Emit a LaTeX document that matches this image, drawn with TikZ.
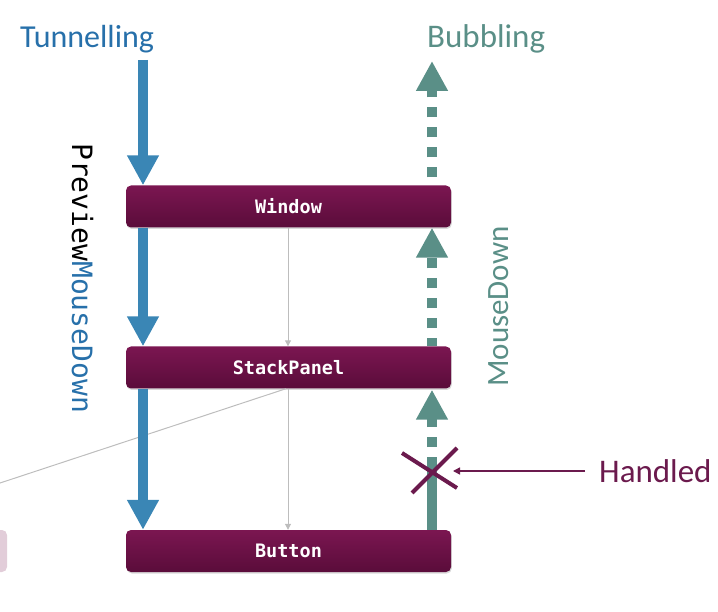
\documentclass[tikz,border=0pt]{standalone}
\usepackage{fontspec}
\setmainfont{Carlito}
\newfontfamily\monofont{DejaVu Sans Mono}
\usetikzlibrary{arrows.meta,shadows}
\definecolor{tblue}{HTML}{3A86B5}
\definecolor{tbluetext}{HTML}{2770AA}
\definecolor{tteal}{HTML}{5A8F87}
\definecolor{tpurple}{HTML}{6B1A4D}
\definecolor{boxtop}{HTML}{7B1651}
\definecolor{boxbot}{HTML}{5A0C3A}
\definecolor{tgray}{HTML}{BDBDBD}
\definecolor{tpink}{HTML}{E2CDD9}
\begin{document}
\begin{tikzpicture}[x=1pt,y=-1pt,
  elembox/.style={rounded corners=5pt, minimum width=325pt, minimum height=42pt,
    top color=boxtop, bottom color=boxbot, draw=none, text=white, inner sep=0pt,
    font=\monofont\bfseries\fontsize{18.5}{20}\selectfont,
    drop shadow={shadow xshift=0.8pt, shadow yshift=-1.5pt, opacity=0.3}},
  ghostbox/.style={rounded corners=5pt, minimum width=40pt, minimum height=42pt, fill=tpink, draw=none},
  bigtext/.style={font=\fontsize{32}{38}\selectfont, inner sep=0pt, anchor=base west},
  tunnelarrow/.style={draw=tblue, line width=10pt, -{Triangle[width=30pt,length=30pt]}},
  bubblearrow/.style={draw=tteal, line width=10pt, dash pattern=on 10pt off 10pt, -{Triangle[width=30pt,length=30pt]}},
  bubblesolid/.style={draw=tteal, line width=10pt},
  treearrow/.style={draw=tgray, line width=1pt, -{Triangle[width=6pt,length=6pt]}},
  treeline/.style={draw=tgray, line width=1pt},
  crossline/.style={draw=tpurple, line width=4pt},
  handledarrow/.style={draw=tpurple, line width=1.5pt, -{Triangle[width=7pt,length=7pt]}}
]
\useasboundingbox (0,0) rectangle (718,612);
\clip (0,0) rectangle (718,612);

% element boxes
\node[elembox] (win) at (288.5,206.5) {Window};
\node[elembox] (sp) at (288.5,367.5) {StackPanel};
\node[elembox] (btn) at (288.5,551) {Button};
\node[ghostbox] (ghost) at (-13,551) {};

% titles
\node[bigtext, text=tbluetext] (tun) at (20,48) {Tunnelling};
\node[bigtext, text=tteal, font=\fontsize{33}{38}\selectfont] (bub) at (427,48) {Bubbling};
\node[bigtext, text=tpurple, font=\fontsize{33}{38}\selectfont] (hnd) at (599,482) {Handled};

% rotated labels
\node[rotate=-90, anchor=base west, inner sep=0pt, font=\monofont\fontsize{28}{32}\selectfont] (pmd) at (72,143)
  {Preview\textcolor{tbluetext}{MouseDown}};
\node[rotate=90, anchor=base west, inner sep=0pt, text=tteal, font=\fontsize{31}{36}\selectfont] (md) at (508,387) {MouseDown};

% column coordinates
\coordinate (bx) at (143,0);
\coordinate (tx) at (432,0);
\coordinate (gx) at (288,0);
\coordinate (tunstart) at (143,60);
\coordinate (bubend) at (432,61);
\coordinate (cut) at (432,457);
\coordinate (hx) at (431,471);
\coordinate (leftend) at (-20,489.6);

% tree (gray) connectors
\draw[treearrow] (gx |- win.south) -- (gx |- sp.north);
\draw[treearrow] (gx |- sp.south) -- (gx |- btn.north);
\draw[treeline] ([xshift=-2pt]gx |- sp.south) -- (leftend);

% tunnelling arrows
\draw[tunnelarrow] (tunstart) -- (bx |- win.north);
\draw[tunnelarrow] (bx |- win.south) -- (bx |- sp.north);
\draw[tunnelarrow] (bx |- sp.south) -- (bx |- btn.north);

% bubbling arrows
\draw[bubblesolid] (tx |- btn.north) -- (cut);
\draw[bubblearrow, dash phase=10pt] (cut) -- ([yshift=-1pt]tx |- sp.south);
\draw[bubblearrow, dash phase=2pt] (tx |- sp.north) -- (tx |- win.south);
\draw[bubblearrow, dash phase=12pt] (tx |- win.north) -- (bubend);

% handled cross
\draw[crossline] ([shift={(-29pt,18pt)}]hx) -- ([shift={(26pt,-17pt)}]hx);
\draw[crossline] ([shift={(-19pt,-22pt)}]hx) -- ([shift={(26pt,23pt)}]hx);
\draw[handledarrow] ([xshift=-14pt]hnd.west |- hx) -- ([xshift=22pt]hx);
\end{tikzpicture}
\end{document}
